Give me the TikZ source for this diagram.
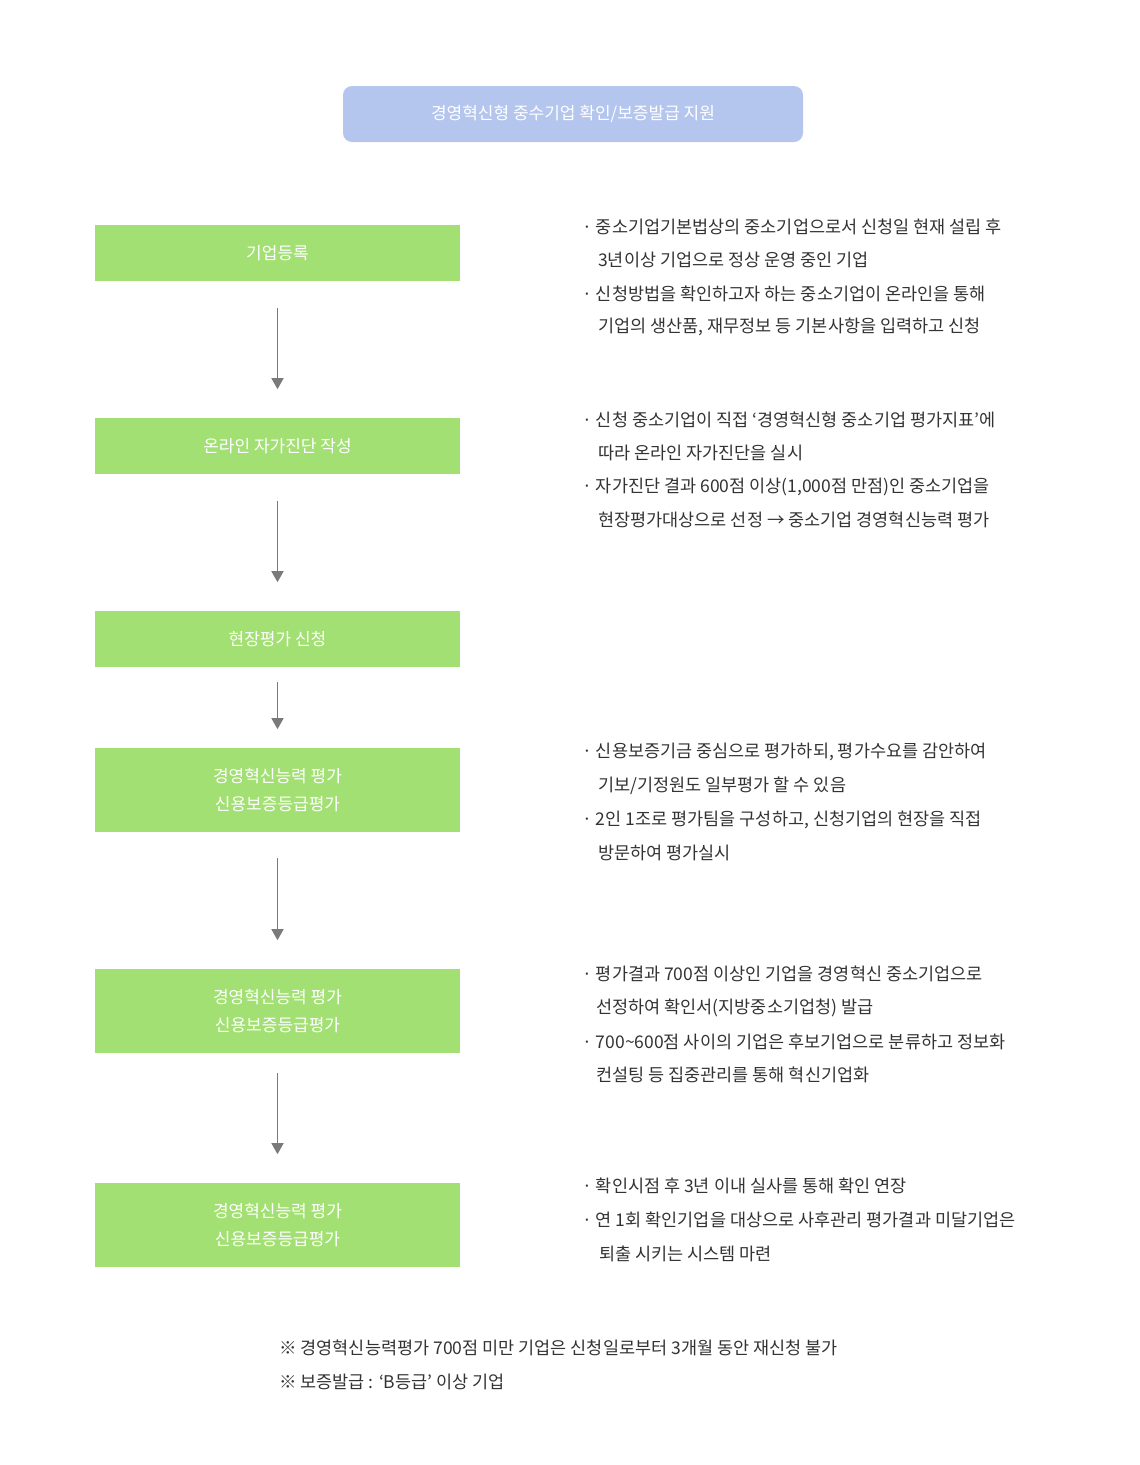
\documentclass[tikz,border=0pt]{standalone}
\usepackage{fontspec}
\setmainfont{Noto Sans CJK KR}
\usetikzlibrary{arrows.meta}
\definecolor{titleblue}{HTML}{B4C6EE}
\definecolor{stepgreen}{HTML}{A3E074}
\definecolor{arrowgray}{HTML}{7A7A7A}
\definecolor{txtgray}{HTML}{333333}
\tikzset{
    my-step/.style={
        fill=stepgreen, text=white, align=center, inner sep=0pt,
        font=\fontsize{17}{28}\selectfont
    },
    my-arrow/.style={
        draw=arrowgray, line width=1.3pt, -{Triangle[length=11pt,width=12pt]}
    },
    my-line/.style={
        anchor=west, inner sep=0pt, text=txtgray,
        font=\fontsize{17.5}{20}\selectfont
    },
}

\begin{document}
\begin{tikzpicture}[x=1pt,y=-1pt]
        \useasboundingbox (0,0) rectangle (1140,1465);

        % TITLE
        \node[fill=titleblue, rounded corners=9pt, text=white, minimum width=460pt,
              minimum height=56pt, font=\fontsize{17}{20}\selectfont] (TITLE) at (573,114)
              {경영혁신형 중수기업 확인/보증발급 지원};

        % STEPS
        \node[my-step, minimum width=365pt, minimum height=56pt] (S1) at (277.5,253) {기업등록};
        \node[my-step, minimum width=365pt, minimum height=56pt] (S2) at (277.5,446) {온라인 자가진단 작성};
        \node[my-step, minimum width=365pt, minimum height=56pt] (S3) at (277.5,639) {현장평가 신청};
        \node[my-step, minimum width=365pt, minimum height=84pt] (S4) at (277.5,790) {경영혁신능력 평가\\신용보증등급평가};
        \node[my-step, minimum width=365pt, minimum height=84pt] (S5) at (277.5,1011) {경영혁신능력 평가\\신용보증등급평가};
        \node[my-step, minimum width=365pt, minimum height=84pt] (S6) at (277.5,1225) {경영혁신능력 평가\\신용보증등급평가};

        % ARROWS
        \draw[my-arrow] ([yshift=-27pt]S1.south) -- ([yshift=-108pt]S1.south);
        \draw[my-arrow] ([yshift=-27pt]S2.south) -- ([yshift=-108pt]S2.south);
        \draw[my-arrow] ([yshift=-15pt]S3.south) -- ([yshift=-62pt]S3.south);
        \draw[my-arrow] ([yshift=-26pt]S4.south) -- ([yshift=-108pt]S4.south);
        \draw[my-arrow] ([yshift=-20pt]S5.south) -- ([yshift=-101pt]S5.south);

        % DESCRIPTIONS
        \node[my-line] (D1a) at (582,227) {· 중소기업기본법상의 중소기업으로서 신청일 현재 설립 후};
        \node[my-line] (D1b) at (598,260) {3년이상 기업으로 정상 운영 중인 기업};
        \node[my-line] (D1c) at (582,294) {· 신청방법을 확인하고자 하는 중소기업이 온라인을 통해};
        \node[my-line] (D1d) at (598,327) {기업의 생산품, 재무정보 등 기본사항을 입력하고 신청};

        \node[my-line] (D2a) at (582,420) {· 신청 중소기업이 직접 ‘경영혁신형 중소기업 평가지표’에};
        \node[my-line] (D2b) at (598,453) {따라 온라인 자가진단을 실시};
        \node[my-line] (D2c) at (582,487) {· 자가진단 결과 600점 이상(1,000점 만점)인 중소기업을};
        \node[my-line] (D2d) at (598,520) {현장평가대상으로 선정 → 중소기업 경영혁신능력 평가};

        \node[my-line] (D4a) at (582,752) {· 신용보증기금 중심으로 평가하되, 평가수요를 감안하여};
        \node[my-line] (D4b) at (598,786) {기보/기정원도 일부평가 할 수 있음};
        \node[my-line] (D4c) at (582,820) {· 2인 1조로 평가팀을 구성하고, 신청기업의 현장을 직접};
        \node[my-line] (D4d) at (598,853) {방문하여 평가실시};

        \node[my-line] (D5a) at (582,974) {· 평가결과 700점 이상인 기업을 경영혁신 중소기업으로};
        \node[my-line] (D5b) at (596,1008) {선정하여 확인서(지방중소기업청) 발급};
        \node[my-line] (D5c) at (582,1042) {· 700\textasciitilde600점 사이의 기업은 후보기업으로 분류하고 정보화};
        \node[my-line] (D5d) at (596,1075) {컨설팅 등 집중관리를 통해 혁신기업화};

        \node[my-line] (D6a) at (582,1186) {· 확인시점 후 3년 이내 실사를 통해 확인 연장};
        \node[my-line] (D6b) at (582,1220) {· 연 1회 확인기업을 대상으로 사후관리 평가결과 미달기업은};
        \node[my-line] (D6c) at (599,1254) {퇴출 시키는 시스템 마련};

        % NOTES
        \node[my-line] (N1) at (279,1348) {※ 경영혁신능력평가 700점 미만 기업은 신청일로부터 3개월 동안 재신청 불가};
        \node[my-line] (N2) at (279,1382) {※ 보증발급 : ‘B등급’ 이상 기업};

\end{tikzpicture}
\end{document}
